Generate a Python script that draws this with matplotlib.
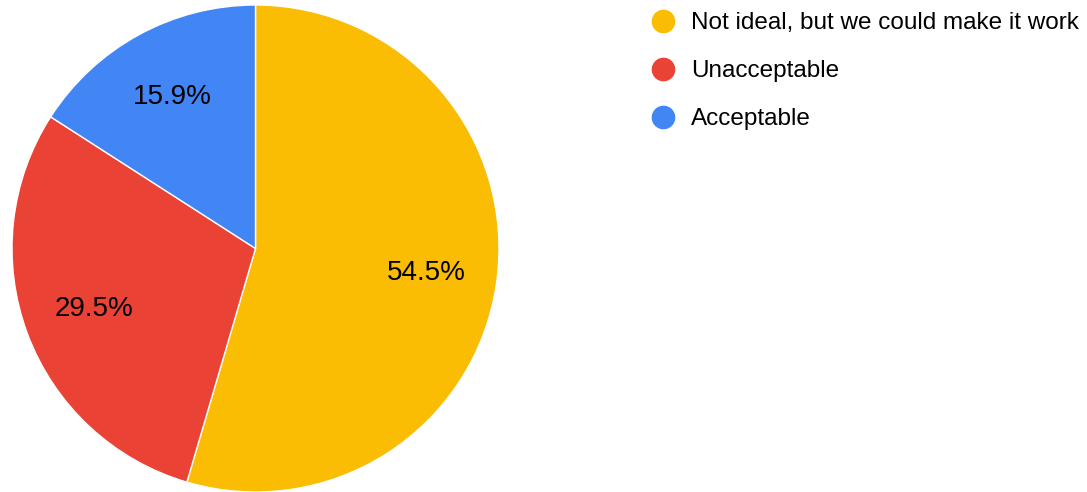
import matplotlib.pyplot as plt
from matplotlib.lines import Line2D

plt.rcParams['font.family'] = ['Liberation Sans', 'DejaVu Sans']

labels = ['Not ideal, but we could make it work', 'Unacceptable', 'Acceptable']
counts = [24, 13, 7]
colors = ['#FBBC04', '#EA4335', '#4285F4']

fig = plt.figure(figsize=(10.87, 4.92), dpi=100)
ax = fig.add_axes([12 / 1087, 0, 487 / 1087, 487 / 492])

ax.pie(counts, colors=colors, startangle=90, counterclock=False,
       autopct='%1.1f%%', pctdistance=0.71, radius=1,
       wedgeprops=dict(edgecolor='white', linewidth=1),
       textprops=dict(fontsize=20, color='black'))
ax.set_xlim(-1, 1)
ax.set_ylim(-1, 1)
ax.set_aspect('equal')
ax.axis('off')

handles = [Line2D([], [], marker='o', ls='', markersize=16,
                  markerfacecolor=c, markeredgecolor=c) for c in colors]
fig.legend(handles, labels, loc='upper left', bbox_to_anchor=(627 / 1087, 1.0),
           frameon=False, fontsize=17.5, handletextpad=0.14, labelspacing=1.07,
           borderaxespad=0.1)

fig.savefig('out.png', dpi=100)
